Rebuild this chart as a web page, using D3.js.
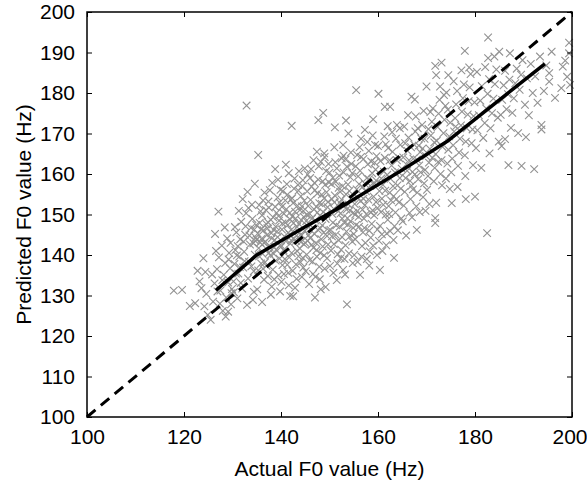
<!DOCTYPE html>
<html>
<head>
<meta charset="utf-8">
<script src="https://cdn.jsdelivr.net/npm/d3@7"></script>
<style>
  body { margin: 0; background: #fff; }
  svg text { font-family: "Liberation Sans", Arial, Helvetica, sans-serif; fill: #000; }
</style>
</head>
<body>
<svg id="chart" width="587" height="486"></svg>
<script>
// tick labels
const xTicks = [100, 120, 140, 160, 180, 200];
const yTicks = [100, 110, 120, 130, 140, 150, 160, 170, 180, 190, 200];

// fitted curve (actual -> predicted)
const fitActual = [126.6, 135.0, 145.0, 154.0, 165.0, 174.2, 194.4];
const fitPredicted = [131.3, 140.0, 147.0, 153.0, 161.0, 168.0, 187.2];

// reference line y = x
const diagActual = [100, 200];
const diagPredicted = [100, 200];

// scatter points: [actual F0, predicted F0]
const points = [
  [117.9,131.2],[119.6,131.4],[121.2,127.4],[122.3,128.1],[124.0,139.2],[124.9,125.2],[123.2,133.5],[124.4,135.8],[124.6,130.4],[122.8,136.1],[124.2,127.3],[123.6,131.8],
  [127.1,150.7],[126.4,145.2],[125.5,124.0],[126.0,128.5],[126.3,133.0],[126.8,136.5],[127.2,139.4],[127.5,131.2],[127.8,142.3],[128.0,126.2],[128.2,135.1],[128.5,138.0],[128.7,129.5],[128.9,144.1],[129.1,133.2],[129.3,140.5],[129.5,136.7],[129.7,127.8],[129.9,131.6],[126.6,141.0],[127.9,133.8],[128.4,146.8],[129.2,138.9],[125.8,135.2],[127.4,128.0],[129.6,143.0],[128.6,124.8],[126.9,131.0],
  [132.9,176.9],[130.2,133.5],[130.4,137.8],[130.6,141.2],[130.8,145.6],[131.0,129.3],[131.2,135.4],[131.4,139.6],[131.6,143.9],[131.8,148.2],[132.0,131.7],[132.2,136.9],[132.4,140.8],[132.6,145.0],[132.8,150.3],[133.0,127.7],[133.2,134.2],[133.4,138.3],[133.6,142.6],[133.8,146.7],[134.0,152.4],[134.2,128.9],[134.4,136.0],[134.6,140.1],[134.8,144.3],[130.5,146.9],[131.3,150.9],[132.1,153.8],[133.1,155.6],[134.1,148.9],[130.9,139.9],[131.7,133.1],[132.5,138.5],[133.5,144.8],[134.5,146.3],[134.3,142.9],[134.7,143.5],[134.9,147.4],[133.9,137.2],[132.3,143.3],[131.1,142.2],[130.3,130.8],[134.6,157.6],[133.3,151.6],[132.7,147.1],[131.5,137.0],[130.7,135.4],[129.8,130.6],[129.1,126.0],[134.4,130.9],
  [135.3,164.7],[138.8,161.2],[135.1,131.5],[135.3,136.2],[135.5,139.7],[135.7,143.1],[135.9,146.4],[136.1,149.8],[136.3,153.5],[136.5,133.9],[136.7,138.2],[136.9,141.6],[137.1,144.9],[137.3,148.1],[137.5,151.7],[137.7,156.0],[137.9,130.2],[138.1,132.2],[138.3,136.4],[138.5,140.3],[138.7,143.7],[138.9,147.0],[139.1,150.4],[139.3,154.2],[139.5,135.0],[139.7,139.1],[139.9,142.5],[135.2,145.3],[135.6,147.9],[136.0,144.0],[136.4,146.1],[136.8,143.3],[137.2,146.6],[137.6,142.0],[138.0,145.4],[138.4,149.3],[138.8,151.9],[139.2,145.8],[139.6,148.5],[135.4,141.7],[135.8,150.8],[136.2,140.3],[136.6,155.4],[137.0,137.3],[137.4,153.2],[137.8,139.9],[138.2,157.8],[138.6,134.0],[139.0,141.3],[139.4,158.6],[139.8,131.0],[136.1,128.4],[137.3,134.8],[138.5,146.2],[139.7,153.0],[135.9,137.9],[136.9,151.1],[137.9,148.7],[138.9,138.6],[139.3,144.4],[135.5,152.3],[136.5,143.0],[137.5,140.5],[138.1,144.1],[139.5,149.6],[135.0,143.8],[137.0,147.6],[138.6,141.9],[136.3,136.6],[139.9,156.1],
  [142.2,171.9],[141.6,160.2],[141.9,129.9],[144.5,158.5],[140.1,133.4],[140.3,137.5],[140.5,141.2],[140.7,144.6],[140.9,148.0],[141.1,151.3],[141.3,154.9],[141.5,135.6],[141.7,139.4],[141.9,142.8],[142.1,146.2],[142.3,149.5],[142.5,152.8],[142.7,156.4],[142.9,131.9],[143.1,137.7],[143.3,141.0],[143.5,144.4],[143.7,147.7],[143.9,151.1],[144.1,154.5],[144.3,134.6],[144.5,139.3],[144.7,142.7],[144.9,146.0],[140.2,146.3],[140.6,150.2],[141.0,143.4],[141.4,147.4],[141.8,145.1],[142.2,140.5],[142.6,144.0],[143.0,149.0],[143.4,152.2],[143.8,145.5],[144.2,148.6],[144.6,150.9],[140.4,155.8],[140.8,139.0],[141.2,157.5],[141.6,132.5],[142.0,153.7],[142.4,136.1],[142.8,158.9],[143.2,134.1],[143.6,155.9],[144.0,138.2],[144.4,157.0],[144.8,153.4],[140.0,142.0],[141.3,137.6],[142.6,147.9],[143.9,141.6],[144.2,144.8],[140.9,153.5],[141.8,150.4],[143.3,146.9],[144.7,149.4],[140.3,147.8],[142.1,143.6],[143.6,139.7],[144.9,161.4],[141.5,145.5],[142.9,150.7],[144.3,152.0],[140.6,135.3],[142.5,129.8],[143.7,160.7],[141.0,162.3],[144.1,143.2],[140.2,151.9],[142.3,154.0],[143.1,143.5],[144.6,136.9],[141.9,148.8],[143.5,157.3],
  [147.7,173.3],[148.7,175.1],[147.4,165.5],[148.9,165.1],[148.2,163.0],[146.0,159.0],[148.0,134.0],[145.1,136.0],[145.3,140.1],[145.5,143.5],[145.7,146.9],[145.9,150.2],[146.1,153.6],[146.3,156.9],[146.5,138.4],[146.7,141.8],[146.9,145.2],[147.1,148.5],[147.3,151.9],[147.5,155.2],[147.7,158.6],[147.9,137.1],[148.1,140.5],[148.3,143.9],[148.5,147.3],[148.7,150.6],[148.9,154.0],[149.1,157.3],[149.3,160.7],[149.5,139.2],[149.7,142.6],[149.9,146.0],[145.2,148.4],[145.6,152.1],[146.0,144.2],[146.4,149.0],[146.8,151.3],[147.2,143.0],[147.6,146.2],[148.0,149.7],[148.4,152.6],[148.8,145.5],[149.2,148.9],[149.6,151.8],[145.4,155.7],[145.8,132.8],[146.2,161.2],[146.6,135.3],[147.0,156.0],[147.4,139.6],[147.8,161.9],[148.2,131.5],[148.6,158.2],[149.0,136.6],[149.4,155.5],[149.8,162.5],[145.0,143.0],[146.1,147.3],[147.3,141.2],[148.4,154.9],[149.5,144.7],[145.5,159.9],[146.7,163.4],[147.9,152.8],[149.0,164.2],[145.9,138.7],[147.1,134.6],[148.6,142.1],[149.7,153.1],[145.3,149.9],[146.9,157.8],[148.1,146.6],[149.3,150.0],[146.3,142.5],[147.5,150.5],[148.9,139.9],[149.9,157.9],[145.7,144.9],[147.0,129.5],[149.2,132.1],
  [151.1,171.5],[153.4,173.2],[152.5,163.9],[152.8,167.2],[153.9,170.0],[151.5,133.8],[152.8,136.3],[153.6,127.8],[150.1,137.3],[150.3,141.1],[150.5,144.6],[150.7,148.0],[150.9,151.4],[151.1,154.7],[151.3,158.1],[151.5,161.4],[151.7,140.2],[151.9,143.6],[152.1,147.0],[152.3,150.3],[152.5,153.7],[152.7,157.0],[152.9,160.4],[153.1,139.0],[153.3,142.4],[153.5,145.8],[153.7,149.1],[153.9,152.5],[154.1,155.8],[154.3,159.2],[154.5,162.5],[154.7,143.3],[154.9,146.7],[150.2,146.2],[150.6,150.1],[151.0,153.0],[151.4,147.3],[151.8,150.8],[152.2,155.6],[152.6,149.0],[153.0,152.1],[153.4,155.0],[153.8,147.5],[154.2,151.0],[154.6,154.2],[150.4,157.5],[150.8,135.6],[151.2,162.9],[151.6,137.9],[152.0,159.6],[152.4,141.3],[152.9,164.5],[153.2,135.2],[153.6,161.8],[154.0,140.4],[154.4,165.3],[154.8,138.0],[150.0,160.3],[151.3,145.0],[152.6,144.4],[153.8,157.4],[154.9,150.4],[150.5,153.8],[151.9,156.6],[153.1,147.9],[154.3,148.3],[150.9,142.7],[152.3,139.2],[153.5,151.2],[154.7,160.2],[151.0,166.6],[153.3,163.6],[152.1,152.9],[150.7,159.1],[154.1,144.5],
  [155.5,180.7],[157.3,170.9],[159.0,173.5],[156.3,135.1],[155.1,140.0],[155.3,143.9],[155.5,147.4],[155.7,150.8],[155.9,154.1],[156.1,157.5],[156.3,160.8],[156.5,164.2],[156.7,142.2],[156.9,145.6],[157.1,149.0],[157.3,152.3],[157.5,155.7],[157.7,159.0],[157.9,162.4],[158.1,165.7],[158.3,140.9],[158.5,144.3],[158.7,147.7],[158.9,151.0],[159.1,154.4],[159.3,157.7],[159.5,161.1],[159.7,164.4],[159.9,146.3],[155.2,152.6],[155.6,156.2],[156.0,149.4],[156.4,153.3],[156.8,156.8],[157.2,146.7],[157.6,150.1],[158.0,153.7],[158.4,157.1],[158.8,160.2],[159.2,149.8],[159.6,153.1],[155.4,161.9],[155.8,138.3],[156.2,166.6],[156.6,139.6],[157.0,163.7],[157.4,143.0],[157.8,167.9],[158.2,137.4],[158.6,163.1],[159.0,142.3],[159.4,167.2],[159.8,140.0],[155.0,145.2],[156.1,147.0],[157.3,157.6],[158.5,150.5],[159.6,158.4],[155.9,159.4],[157.0,153.9],[158.2,146.0],[159.3,162.8],[155.3,150.0],[156.5,168.7],[157.7,139.0],[158.9,169.5],[159.9,151.6],[156.8,151.2],[158.1,158.7],[155.7,164.7],
  [160.4,136.3],[160.1,179.8],[161.4,176.6],[162.5,176.6],[163.9,172.1],[164.5,171.3],[160.2,143.5],[160.4,147.2],[160.6,150.6],[160.8,153.9],[161.0,157.3],[161.2,160.6],[161.4,164.0],[161.6,167.3],[161.8,145.3],[162.0,148.7],[162.2,152.1],[162.4,155.4],[162.6,158.8],[162.8,162.1],[163.0,165.5],[163.2,143.7],[163.4,147.1],[163.6,150.5],[163.8,153.8],[164.0,157.2],[164.2,160.5],[164.4,163.9],[164.6,167.2],[164.8,149.0],[160.3,155.8],[160.7,158.9],[161.1,152.4],[161.5,155.9],[161.9,159.8],[162.3,150.1],[162.7,153.5],[163.1,157.0],[163.5,160.4],[163.9,163.4],[164.3,153.0],[164.7,156.4],[160.5,163.2],[160.9,141.0],[161.3,169.3],[161.7,142.4],[162.1,166.4],[162.5,145.9],[162.9,170.3],[163.3,139.3],[163.7,168.7],[164.1,146.1],[164.9,161.3],[160.0,166.9],[161.6,150.0],[162.4,163.4],[163.2,154.5],[164.5,159.0],[160.8,145.1],[162.0,171.8],
  [166.9,179.1],[167.6,178.4],[168.0,146.2],[165.1,148.3],[165.3,152.2],[165.5,155.6],[165.7,159.0],[165.9,162.3],[166.1,165.7],[166.3,169.0],[166.5,150.4],[166.7,153.8],[166.9,157.1],[167.1,160.5],[167.3,163.8],[167.5,167.2],[167.7,170.5],[167.9,152.0],[168.1,155.4],[168.3,158.7],[168.5,162.1],[168.7,165.4],[168.9,168.8],[169.1,172.1],[169.3,154.3],[169.5,157.7],[169.7,161.0],[169.9,164.4],[165.2,164.1],[165.6,167.6],[166.0,160.8],[166.4,163.4],[166.8,166.6],[167.2,156.2],[167.6,159.9],[168.0,163.6],[168.4,167.0],[168.8,160.4],[169.2,166.3],[169.6,168.7],[165.4,171.7],[165.8,144.8],[166.2,174.5],[167.0,149.3],[167.8,174.2],[168.6,150.6],[169.4,175.6],[169.8,150.9],[166.6,158.3],[168.2,171.3],
  [170.0,181.6],[171.8,186.7],[173.1,187.5],[172.0,184.4],[174.5,184.4],[171.8,147.9],[171.8,149.1],[172.0,152.9],[170.1,156.1],[170.3,159.5],[170.5,162.8],[170.7,166.2],[170.9,169.5],[171.1,172.9],[171.3,176.2],[171.5,158.2],[171.7,161.5],[171.9,164.9],[172.1,168.2],[172.3,171.6],[172.5,174.9],[172.7,178.3],[172.9,160.0],[173.1,163.4],[173.3,166.7],[173.5,170.1],[173.7,173.4],[173.9,176.8],[174.1,180.1],[174.3,162.6],[174.5,166.0],[174.7,169.3],[174.9,172.7],[170.4,171.1],[170.8,175.3],[171.2,164.0],[171.6,167.8],[172.4,163.0],[172.8,181.6],[173.2,157.2],[173.6,179.5],[174.0,158.9],[174.4,175.9],[174.8,156.3],[170.6,152.6],
  [175.2,152.8],[178.1,153.8],[177.9,190.4],[175.1,160.4],[175.3,163.8],[175.5,167.1],[175.7,170.5],[175.9,173.8],[176.1,177.2],[176.3,180.5],[176.5,162.0],[176.7,165.3],[176.9,168.7],[177.1,172.0],[177.3,175.4],[177.5,178.7],[177.7,182.1],[177.9,164.6],[178.1,168.0],[178.3,171.3],[178.5,174.7],[178.7,178.0],[178.9,181.4],[179.1,184.7],[179.3,167.6],[179.5,171.0],[179.7,174.3],[179.9,177.7],[175.6,182.9],[176.4,156.8],[177.2,185.6],[178.0,159.5],[178.8,186.3],[179.6,162.2],[176.0,171.7],
  [182.5,145.4],[180.0,154.4],[182.7,193.7],[182.7,188.6],[180.2,166.4],[180.5,170.8],[180.8,174.5],[181.1,178.1],[181.4,181.7],[181.7,168.9],[182.0,172.6],[182.3,176.2],[182.6,179.8],[182.9,183.4],[183.2,171.3],[183.5,175.0],[183.8,178.6],[184.1,182.2],[184.4,185.8],[184.7,173.9],[180.4,185.2],[181.3,161.5],[182.1,186.4],[183.0,165.1],[184.0,189.0],[184.9,168.0],
  [186.9,162.2],[189.6,162.0],[186.2,168.6],[185.0,190.2],[187.2,189.8],[185.3,174.6],[185.6,178.3],[185.9,181.9],[186.2,185.5],[186.5,176.0],[186.8,179.7],[187.1,183.3],[187.4,171.4],[187.7,175.1],[188.0,178.7],[188.3,182.4],[188.6,186.0],[188.9,170.1],[189.2,180.8],[189.5,184.5],[189.8,188.1],[185.5,166.9],
  [192.2,161.2],[193.7,172.1],[193.7,171.0],[190.3,177.1],[190.7,183.6],[191.1,174.5],[191.5,187.2],[191.9,180.0],[192.4,184.1],[192.9,177.6],[193.4,189.0],[194.2,180.5],[194.7,186.8],[190.5,169.1],
  [195.3,184.9],[195.3,182.8],[195.8,190.2],[199.4,192.4],[199.4,189.8],[198.1,186.5],[199.0,184.0],[199.6,182.0],[196.5,178.8],[197.8,181.2],[198.6,188.0]
];

const svg = d3.select("#chart");
const margin = { top: 12, right: 15, bottom: 69, left: 87 };
const width = +svg.attr("width");
const height = +svg.attr("height");

const x = d3.scaleLinear().domain([100, 200]).range([margin.left, width - margin.right]);
const y = d3.scaleLinear().domain([100, 200]).range([height - margin.bottom, margin.top]);

// scatter
const s = 3.8;
svg.append("g")
  .selectAll("path")
  .data(points)
  .join("path")
  .attr("d", d => {
    const cx = x(d[0]), cy = y(d[1]);
    return `M${cx - s},${cy - s}L${cx + s},${cy + s}M${cx - s},${cy + s}L${cx + s},${cy - s}`;
  })
  .attr("stroke", "#929292")
  .attr("stroke-width", 1.1)
  .attr("fill", "none");

// dashed y = x
const line = d3.line().x(d => x(d[0])).y(d => y(d[1]));
svg.append("path")
  .datum(d3.zip(diagActual, diagPredicted))
  .attr("d", line)
  .attr("stroke", "#000")
  .attr("stroke-width", 3)
  .attr("stroke-dasharray", "11,7")
  .attr("fill", "none");

// fitted line
svg.append("path")
  .datum(d3.zip(fitActual, fitPredicted))
  .attr("d", line)
  .attr("stroke", "#000")
  .attr("stroke-width", 3.5)
  .attr("stroke-linejoin", "round")
  .attr("fill", "none");

// axes box with inward ticks
const x0 = margin.left, x1 = width - margin.right;
const y0 = height - margin.bottom, y1 = margin.top;
const axisStyle = g => {
  g.select(".domain").remove();
  g.selectAll(".tick line").attr("stroke", "#000").attr("stroke-width", 1);
};

svg.append("g")
  .attr("transform", `translate(0,${y0})`)
  .call(d3.axisBottom(x).tickValues(xTicks).tickSizeInner(-5).tickSizeOuter(0).tickPadding(12).tickFormat(d3.format("d")))
  .call(axisStyle)
  .call(g => g.selectAll(".tick text").attr("font-size", 21).attr("dy", "0.71em"))
  // last label sits against the page edge
  .call(g => g.selectAll(".tick text").filter(d => d === 200).attr("text-anchor", "end").attr("dx", 15));

svg.append("g")
  .attr("transform", `translate(0,${y1})`)
  .call(d3.axisTop(x).tickValues(xTicks).tickSizeInner(-5).tickSizeOuter(0).tickFormat(""))
  .call(axisStyle);

svg.append("g")
  .attr("transform", `translate(${x0},0)`)
  .call(d3.axisLeft(y).tickValues(yTicks).tickSizeInner(-5).tickSizeOuter(0).tickPadding(12).tickFormat(d3.format("d")))
  .call(axisStyle)
  .call(g => g.selectAll(".tick text").attr("font-size", 21));

svg.append("g")
  .attr("transform", `translate(${x1},0)`)
  .call(d3.axisRight(y).tickValues(yTicks).tickSizeInner(-5).tickSizeOuter(0).tickFormat(""))
  .call(axisStyle);

svg.append("rect")
  .attr("x", x0).attr("y", y1)
  .attr("width", x1 - x0).attr("height", y0 - y1)
  .attr("fill", "none")
  .attr("stroke", "#000")
  .attr("stroke-width", 1.5);

// axis titles
svg.append("text")
  .attr("x", (x0 + x1) / 2)
  .attr("y", 476)
  .attr("text-anchor", "middle")
  .attr("font-size", 21)
  .text("Actual F0 value (Hz)");

svg.append("text")
  .attr("transform", "rotate(-90)")
  .attr("x", -(y0 + y1) / 2)
  .attr("y", 31)
  .attr("text-anchor", "middle")
  .attr("font-size", 21)
  .text("Predicted F0 value (Hz)");
</script>
</body>
</html>
